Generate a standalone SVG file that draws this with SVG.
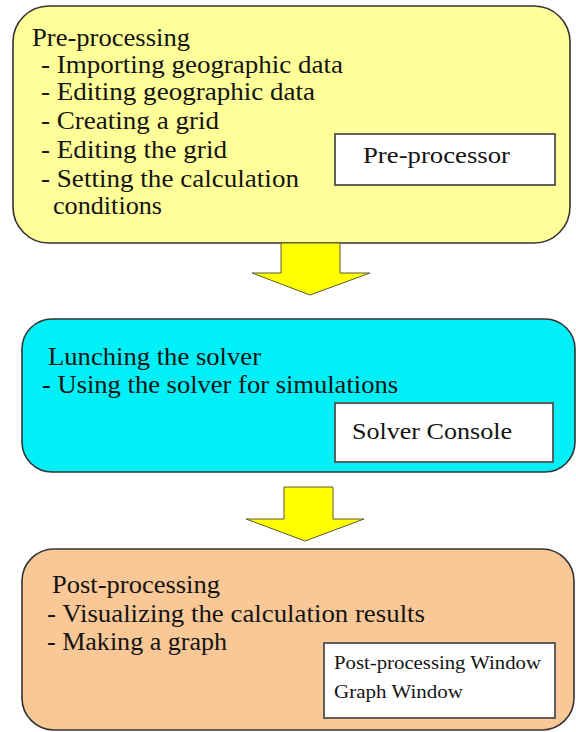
<svg xmlns="http://www.w3.org/2000/svg" width="576" height="732" viewBox="0 0 576 732">
<style>
.t{font-family:"Liberation Serif","Times New Roman",serif;fill:#141414;font-size:24.5px}
.s{font-family:"Liberation Serif","Times New Roman",serif;fill:#141414;font-size:24px}
.xs{font-family:"Liberation Serif","Times New Roman",serif;fill:#141414;font-size:19px}
.box{stroke:#333333;stroke-width:1.6}
.win{fill:#ffffff;stroke:#505050;stroke-width:1.8}
.arr{fill:#ffff00;stroke:#5a5a30;stroke-width:1}
</style>
<rect width="576" height="732" fill="#ffffff"/>
<g id="pre">
<rect class="box" x="13" y="6" width="557" height="237" rx="36" fill="#ffff99"/>
<text class="t" x="32" y="46" textLength="158" lengthAdjust="spacingAndGlyphs">Pre-processing</text>
<text class="t" x="41" y="73" textLength="302" lengthAdjust="spacingAndGlyphs">- Importing geographic data</text>
<text class="t" x="41" y="100" textLength="274" lengthAdjust="spacingAndGlyphs">- Editing geographic data</text>
<text class="t" x="41" y="129" textLength="178" lengthAdjust="spacingAndGlyphs">- Creating a grid</text>
<text class="t" x="41" y="158" textLength="186" lengthAdjust="spacingAndGlyphs">- Editing the grid</text>
<text class="t" x="41" y="187" textLength="258" lengthAdjust="spacingAndGlyphs">- Setting the calculation</text>
<text class="t" x="53" y="214" textLength="109" lengthAdjust="spacingAndGlyphs">conditions</text>
<g id="preprocessor">
<rect class="win" x="335" y="134" width="220" height="51"/>
<text class="s" x="363" y="163" textLength="147" lengthAdjust="spacingAndGlyphs">Pre-processor</text>
</g>
</g>
<g id="solver">
<rect class="box" x="22" y="319" width="553" height="153" rx="30" fill="#00f0f8"/>
<text class="t" x="48" y="365" textLength="213" lengthAdjust="spacingAndGlyphs">Lunching the solver</text>
<text class="t" x="42" y="393" textLength="356" lengthAdjust="spacingAndGlyphs">- Using the solver for simulations</text>
<g id="console">
<rect class="win" x="335" y="403" width="218" height="59"/>
<text class="s" x="352" y="439" textLength="160" lengthAdjust="spacingAndGlyphs">Solver Console</text>
</g>
</g>
<g id="post">
<rect class="box" x="22" y="549" width="552" height="181" rx="32" fill="#fac896"/>
<text class="t" x="52" y="593" textLength="168" lengthAdjust="spacingAndGlyphs">Post-processing</text>
<text class="t" x="47" y="622" textLength="378" lengthAdjust="spacingAndGlyphs">- Visualizing the calculation results</text>
<text class="t" x="47" y="650" textLength="180" lengthAdjust="spacingAndGlyphs">- Making a graph</text>
<g id="windows">
<rect class="win" x="324" y="643" width="231" height="75"/>
<text class="xs" x="334" y="669" textLength="207" lengthAdjust="spacingAndGlyphs">Post-processing Window</text>
<text class="xs" x="334" y="698" textLength="129" lengthAdjust="spacingAndGlyphs">Graph Window</text>
</g>
</g>
<g id="connectors">
<polygon class="arr" points="281,243 340,243 340,273 370,273 310,295 252,273 281,273"/>
<polygon class="arr" points="284,487 333,487 333,519 364,519 305,541 246,519 284,519"/>
</g>
</svg>
